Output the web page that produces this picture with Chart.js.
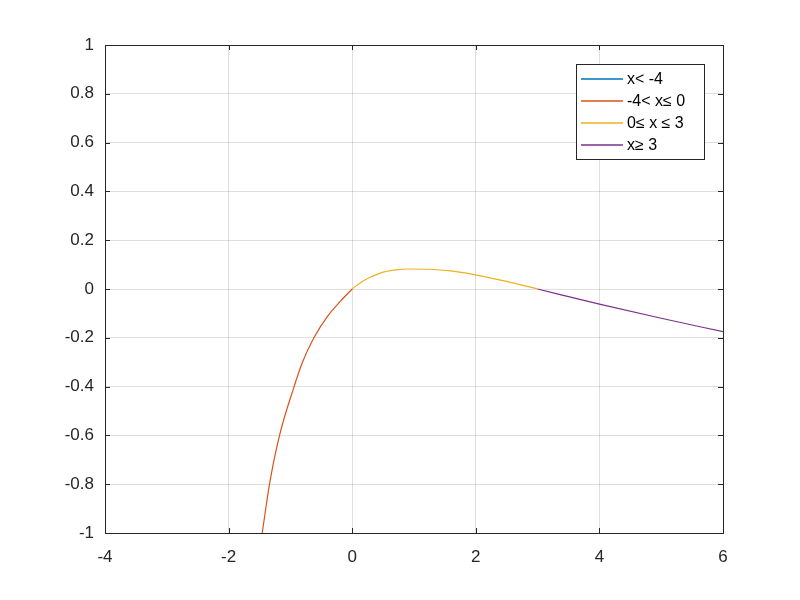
<!DOCTYPE html>
<html>
<head>
<meta charset="utf-8">
<script src="https://cdn.jsdelivr.net/npm/chart.js@4/dist/chart.umd.min.js"></script>
<style>
  html, body { margin: 0; padding: 0; background: #fff; }
  #wrap { width: 800px; height: 600px; }
</style>
</head>
<body>
<div id="wrap"><canvas id="c" width="800" height="600"></canvas></div>
<script>
// series
const legendLabels = ["x< -4", "-4< x\u2264 0", "0\u2264 x \u2264 3", "x\u2265 3"];
const lineColors = ["#0072BD", "#D95319", "#EDB120", "#7E2F8E"];

const seg1X = [];
const seg1Y = [];
const seg2X = [-1.456, -1.338, -1.176, -0.94, -0.81, -0.62, -0.40, -0.19, 0];
const seg2Y = [-1.0, -0.8, -0.6, -0.4, -0.303, -0.2, -0.112, -0.05, 0];
const seg3X = [0, 0.162, 0.43, 0.70, 0.97, 1.24, 1.6, 1.99, 2.5, 3.0];
const seg3Y = [0, 0.031, 0.063, 0.078, 0.082, 0.081, 0.074, 0.058, 0.031, 0];
const seg4X = [3.0, 4.0, 5.0, 6.0];
const seg4Y = [0, -0.062, -0.12, -0.175];

const xTicks = [-4, -2, 0, 2, 4, 6];
const yTicks = [-1, -0.8, -0.6, -0.4, -0.2, 0, 0.2, 0.4, 0.6, 0.8, 1];

const axisColor = "#262626";
const gridColor = "rgba(38,38,38,0.15)";

function toPoints(xs, ys) {
  return xs.map((x, i) => ({ x, y: ys[i] }));
}

const segs = [[seg1X, seg1Y], [seg2X, seg2Y], [seg3X, seg3Y], [seg4X, seg4Y]];

// frame + inward ticks, matlab style
const boxPlugin = {
  id: "box",
  afterDatasetsDraw(chart) {
    const { ctx, chartArea: a, scales } = chart;
    const len = 5;
    ctx.save();
    ctx.strokeStyle = axisColor;
    ctx.lineWidth = 1;
    scales.x.ticks.forEach(t => {
      const px = Math.round(scales.x.getPixelForValue(t.value)) + 0.5;
      ctx.beginPath();
      ctx.moveTo(px, a.bottom); ctx.lineTo(px, a.bottom - len);
      ctx.moveTo(px, a.top); ctx.lineTo(px, a.top + len);
      ctx.stroke();
    });
    scales.y.ticks.forEach(t => {
      const py = Math.round(scales.y.getPixelForValue(t.value)) + 0.5;
      ctx.beginPath();
      ctx.moveTo(a.left, py); ctx.lineTo(a.left + len, py);
      ctx.moveTo(a.right, py); ctx.lineTo(a.right - len, py);
      ctx.stroke();
    });
    ctx.strokeRect(Math.round(a.left) + 0.5, Math.round(a.top) + 0.5,
      Math.round(a.right - a.left), Math.round(a.bottom - a.top));
    ctx.restore();
  },
};

// legend box inside the axes, top right
const legendBoxPlugin = {
  id: "legendBox",
  afterDraw(chart) {
    const { ctx, chartArea: a } = chart;
    const w = 128, rowH = 22;
    const left = a.right - 19 - w, top = a.top + 19;
    const h = rowH * legendLabels.length + 7;
    ctx.save();
    ctx.fillStyle = "#fff";
    ctx.fillRect(left, top, w, h);
    ctx.strokeStyle = axisColor;
    ctx.lineWidth = 1;
    ctx.strokeRect(left + 0.5, top + 0.5, w, h);
    ctx.font = "16px 'Liberation Sans', Arial, sans-serif";
    ctx.textBaseline = "middle";
    legendLabels.forEach((lab, i) => {
      const cy = top + 15 + i * rowH;
      ctx.strokeStyle = lineColors[i];
      ctx.lineWidth = 1.3;
      ctx.beginPath();
      ctx.moveTo(left + 5, cy); ctx.lineTo(left + 47, cy);
      ctx.stroke();
      ctx.fillStyle = "#000";
      ctx.fillText(lab, left + 51, cy + 1);
    });
    ctx.restore();
  },
};

new Chart(document.getElementById("c"), {
  type: "line",
  data: {
    datasets: segs.map((s, i) => ({
      label: legendLabels[i],
      data: toPoints(s[0], s[1]),
      borderColor: lineColors[i],
      backgroundColor: lineColors[i],
      borderWidth: 1.2,
      pointRadius: 0,
      fill: false,
      cubicInterpolationMode: "monotone",
    })),
  },
  options: {
    responsive: false,
    animation: false,
    layout: { padding: { left: 0, top: 45, right: 77, bottom: 0 } },
    plugins: { legend: { display: false }, tooltip: { enabled: false } },
    scales: {
      x: {
        type: "linear",
        min: -4, max: 6,
        afterBuildTicks: s => { s.ticks = xTicks.map(v => ({ value: v })); },
        afterFit: s => { s.height = 67; },
        grid: { color: gridColor, drawTicks: false },
        border: { display: false },
        ticks: {
          color: axisColor, padding: 14,
          font: { family: "'Liberation Sans', Arial, sans-serif", size: 17 },
          maxRotation: 0,
          callback: v => String(v),
        },
      },
      y: {
        type: "linear",
        min: -1, max: 1,
        afterBuildTicks: s => { s.ticks = yTicks.map(v => ({ value: v })); },
        afterFit: s => { s.width = 105; },
        grid: { color: gridColor, drawTicks: false },
        border: { display: false },
        ticks: {
          color: axisColor, padding: 11,
          font: { family: "'Liberation Sans', Arial, sans-serif", size: 17 },
          callback: v => String(Number(v.toFixed(1))),
        },
      },
    },
  },
  plugins: [boxPlugin, legendBoxPlugin],
});
</script>
</body>
</html>
